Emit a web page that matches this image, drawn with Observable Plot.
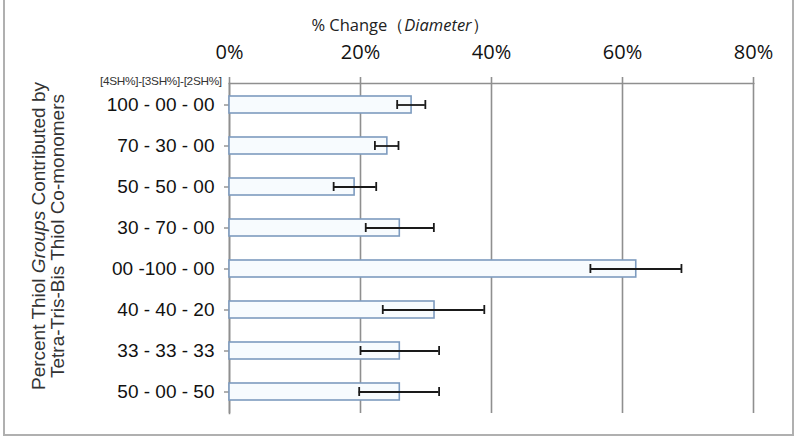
<!DOCTYPE html>
<html>
<head>
<meta charset="utf-8">
<script src="https://cdn.jsdelivr.net/npm/d3@7"></script>
<script src="https://cdn.jsdelivr.net/npm/@observablehq/plot@0.6"></script>
<style>
  html, body { margin: 0; padding: 0; background: #fff; }
  #wrap { position: relative; width: 800px; height: 440px; overflow: hidden; }
  #box { position: absolute; left: 3px; top: -10px; width: 791px; height: 446px; border: 2px solid #b0b0b0; box-sizing: border-box; }
  #title { position: absolute; left: 0; width: 800px; top: 13px; text-align: center; font-family: "Open Sans", "Noto Sans", sans-serif; font-size: 16.5px; color: #222; }
  #ytitle { position: absolute; left: 48px; top: 236px; width: 380px; transform: translate(-50%, -50%) rotate(-90deg); text-align: center; font-family: "Liberation Sans", Arial, sans-serif; font-size: 19px; line-height: 19px; color: #333; }
  #header { position: absolute; left: 100px; top: 74px; font-family: "Liberation Sans", Arial, sans-serif; font-size: 11.8px; color: #333; letter-spacing: -0.3px; }
  svg { position: absolute; left: 0; top: 0; }
</style>
</head>
<body>
<div id="wrap">
  <div id="box"></div>
  <div id="title">% Change（<i>Diameter</i>）</div>
  <div id="ytitle">Percent Thiol <i>Groups</i> Contributed by<br>Tetra-Tris-Bis Thiol Co-monomers</div>
  <div id="header">[4SH%]-[3SH%]-[2SH%]</div>
</div>
<script>
const categories = ["100 - 00 - 00", "70 - 30 - 00", "50 - 50 - 00", "30 - 70 - 00", "00 -100 - 00", "40 - 40 - 20", "33 - 33 - 33", "50 - 00 - 50"];
const values   = [0.278, 0.241, 0.191, 0.260, 0.621, 0.313, 0.260, 0.260];
const errLow   = [0.256, 0.222, 0.159, 0.208, 0.551, 0.234, 0.200, 0.198];
const errHigh  = [0.299, 0.258, 0.224, 0.312, 0.690, 0.389, 0.320, 0.320];
const xTicks   = [0, 0.2, 0.4, 0.6, 0.8];

const data = categories.map((c, i) => ({cat: c, v: values[i], lo: errLow[i], hi: errHigh[i]}));

const chart = Plot.plot({
  width: 800,
  height: 440,
  marginLeft: 229,
  marginRight: 47,
  marginTop: 83,
  marginBottom: 27,
  style: {fontFamily: "Liberation Sans, Arial, sans-serif", background: "transparent"},
  x: {domain: [0, 0.8], ticks: xTicks, tickFormat: d3.format(".0%")},
  y: {domain: categories, paddingInner: 0.59, paddingOuter: 0.295, label: null},
  marks: [
    Plot.ruleX(xTicks, {x: d => d, stroke: "#8f8f8f", strokeWidth: 1.6, strokeOpacity: 1}),
    Plot.axisX({anchor: "top", ticks: xTicks, tickFormat: d3.format(".0%"), tickSize: 7, tickPadding: 18, label: null, fontSize: 20, fontFamily: "Open Sans, Noto Sans, sans-serif", fill: "#111", stroke: "#8f8f8f", strokeWidth: 1.6}),
    Plot.frame({anchor: "top", stroke: "#8f8f8f", strokeWidth: 1.6}),
    Plot.frame({anchor: "left", stroke: "#8f8f8f", strokeWidth: 1.6}),
    Plot.axisY({anchor: "left", tickSize: 5, tickPadding: 10, label: null, fontSize: 19, fill: "#111", stroke: "#8f8f8f", strokeWidth: 1.4}),
    Plot.barX(data, {y: "cat", x1: 0, x2: "v", fill: "#f7fbfe", stroke: "#7d9bbf", strokeWidth: 1.6}),
    Plot.ruleY(data, {y: "cat", x1: "lo", x2: "hi", stroke: "#1a1a1a", strokeWidth: 1.8}),
    Plot.tickX(data, {y: "cat", x: "lo", stroke: "#1a1a1a", strokeWidth: 1.8, insetTop: 4, insetBottom: 4}),
    Plot.tickX(data, {y: "cat", x: "hi", stroke: "#1a1a1a", strokeWidth: 1.8, insetTop: 4, insetBottom: 4})
  ]
});
document.getElementById("wrap").appendChild(chart);
</script>
</body>
</html>
